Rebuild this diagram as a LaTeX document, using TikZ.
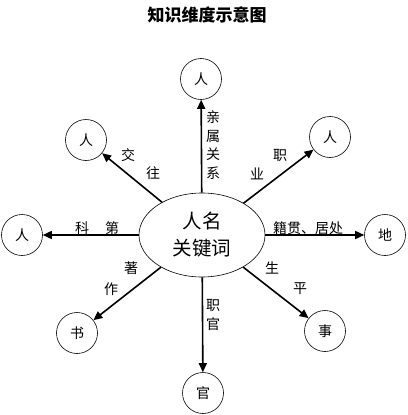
\documentclass[tikz,border=0pt]{standalone}
\usepackage{fontspec}
\newfontfamily\cjk{Noto Sans CJK SC}
\usetikzlibrary{arrows.meta,shapes.geometric}

\begin{document}
\begin{tikzpicture}[x=1pt,y=-1pt,
  dimnode/.style={draw, circle, minimum size=41pt, inner sep=0pt, line width=0.6pt, font=\cjk\fontsize{14}{14}\selectfont},
  link/.style={-{Triangle[length=9pt,width=8pt]}, line width=1.6pt},
  lbl/.style={font=\cjk\fontsize{14}{18.5}\selectfont, align=center, inner sep=0pt}]
  \useasboundingbox (0,0) rectangle (407,415);
  \node[font=\cjk\bfseries\fontsize{17}{17}\selectfont] (title) at (207,15) {知识维度示意图};

  % centre
  \node[draw, ellipse, minimum width=126pt, minimum height=84pt, inner sep=0pt, line width=0.6pt, align=center, font=\cjk\fontsize{19.5}{27}\selectfont] (kw) at (202,235) {人名\\关键词};

  % dimensions
  \node[dimnode] (kin) at (201,79) {人};
  \node[dimnode] (friend) at (86,140) {人};
  \node[dimnode] (career) at (330,137) {人};
  \node[dimnode] (exam) at (22,235) {人};
  \node[dimnode] (place) at (385,235) {地};
  \node[dimnode] (book) at (77,333) {书};
  \node[dimnode] (life) at (325,331) {事};
  \node[dimnode] (office) at (203,393) {官};

  % arrows
  \draw[link] (kw) -- (kin);
  \draw[link] (kw) -- (friend);
  \draw[link] (kw) -- (career);
  \draw[link] (kw) -- (exam);
  \draw[link] (kw) -- (place);
  \draw[link] (kw) -- (book);
  \draw[link] (kw) -- (life);
  \draw[link] (kw) -- (office);

  % labels
  \node[lbl] (kinlbl) at (213,145) {亲\\属\\关\\系};
  \node[lbl] (friendlbl1) at (128,155) {交};
  \node[lbl] (friendlbl2) at (153,173) {往};
  \node[lbl] (careerlbl1) at (280,155) {职};
  \node[lbl] (careerlbl2) at (257,174) {业};
  \node[lbl] (examlbl1) at (82,228) {科};
  \node[lbl] (examlbl2) at (112,228) {第};
  \node[lbl] (placelbl) at (308,228) {籍贯、居处};
  \node[lbl] (booklbl1) at (131,268) {著};
  \node[lbl] (booklbl2) at (111,289) {作};
  \node[lbl] (lifelbl1) at (272,268) {生};
  \node[lbl] (lifelbl2) at (300,289) {平};
  \node[lbl] (officelbl) at (213,315) {职\\官};
\end{tikzpicture}
\end{document}
